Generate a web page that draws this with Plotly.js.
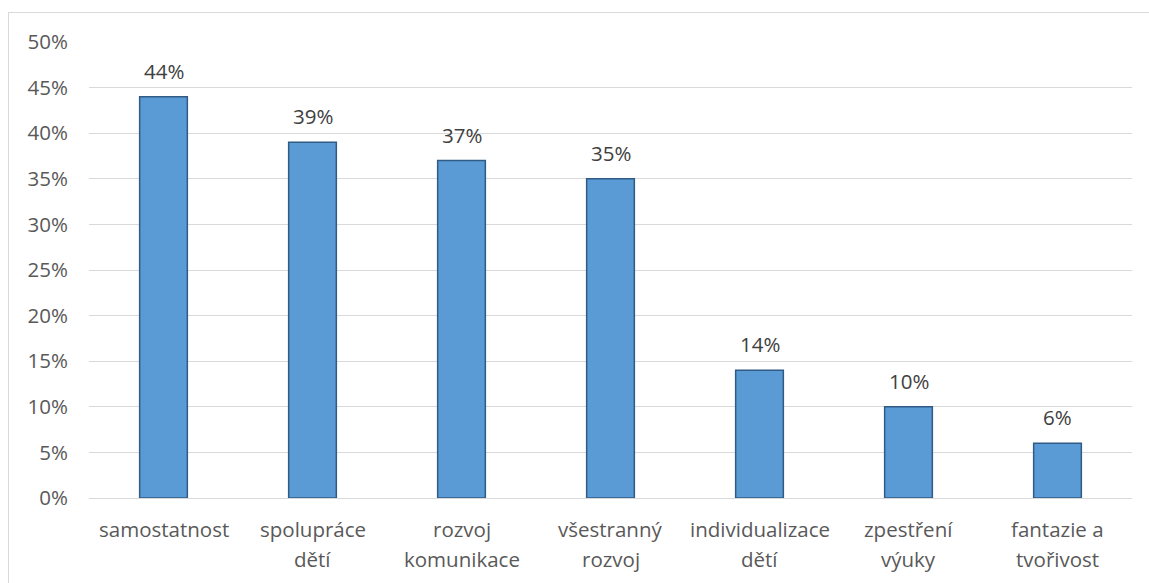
<!DOCTYPE html>
<html>
<head>
<meta charset="utf-8">
<script src="https://cdn.plot.ly/plotly-3.0.1.min.js"></script>
<style>
  html, body { margin: 0; padding: 0; background: #ffffff; }
  #wrap { position: relative; width: 1149px; height: 583px; overflow: hidden; }
  #frame { position: absolute; left: 8px; top: 12px; width: 1160px; height: 600px;
           border: 1px solid #d9d9d9; box-sizing: border-box; pointer-events: none; }
  #chart { position: absolute; left: 0; top: 0; width: 1149px; height: 583px; }
</style>
</head>
<body>
<div id="wrap">
  <div id="chart"></div>
  <div id="frame"></div>
</div>
<script>
// Survey categories (each split into the two lines shown under the axis)
const categories = ['samostatnost', 'spolupráce dětí', 'rozvoj komunikace', 'všestranný rozvoj',
                    'individualizace dětí', 'zpestření výuky', 'fantazie a tvořivost'];
const labelLine1 = ['samostatnost', 'spolupráce', 'rozvoj', 'všestranný', 'individualizace', 'zpestření', 'fantazie a'];
const labelLine2 = ['', 'dětí', 'komunikace', 'rozvoj', 'dětí', 'výuky', 'tvořivost'];
// Share of respondents, in percent
const shares = [44, 39, 37, 35, 14, 10, 6];
const yTicks = [0, 5, 10, 15, 20, 25, 30, 35, 40, 45, 50];

const FONT = '"Open Sans", "Noto Sans", sans-serif';
const FS = 20.5;
const TICK_COLOR = '#595959';
const LABEL_COLOR = '#404040';

const trace = {
  type: 'bar',
  x: categories,
  y: shares,
  marker: { color: '#5b9bd5', line: { color: '#2f5b85', width: 1.5 } },
  hoverinfo: 'skip'
};

const annotations = [];
// value labels above each bar
categories.forEach((c, i) => {
  annotations.push({
    x: c, y: shares[i], xref: 'x', yref: 'y',
    text: shares[i] + '%', showarrow: false,
    yanchor: 'bottom', yshift: 10,
    font: { family: FONT, size: FS, color: LABEL_COLOR }
  });
});
// two-line category labels under the axis
categories.forEach((c, i) => {
  [labelLine1[i], labelLine2[i]].forEach((t, k) => {
    if (!t) return;
    annotations.push({
      x: c, y: 0, xref: 'x', yref: 'paper',
      text: t, showarrow: false,
      yanchor: 'top', yshift: -15 - 30 * k,
      font: { family: FONT, size: FS, color: TICK_COLOR }
    });
  });
});

const layout = {
  width: 1149, height: 583,
  margin: { l: 89, r: 17, t: 42, b: 85 },
  paper_bgcolor: '#ffffff', plot_bgcolor: '#ffffff',
  bargap: 0.68,
  showlegend: false,
  font: { family: FONT, size: FS, color: TICK_COLOR },
  xaxis: {
    type: 'category',
    showticklabels: false,
    showgrid: false, zeroline: false,
    showline: false, ticks: ''
  },
  yaxis: {
    range: [0, 50],
    tickvals: yTicks,
    ticktext: yTicks.map(v => v + '%'),
    showgrid: true, gridcolor: '#d9d9d9', gridwidth: 1,
    zeroline: true, zerolinecolor: '#d9d9d9', zerolinewidth: 1,
    showline: false, ticks: '',
    ticklabelstandoff: 20,
    tickfont: { family: FONT, size: FS, color: TICK_COLOR }
  },
  annotations: annotations
};

Plotly.newPlot('chart', [trace], layout, { staticPlot: true, displayModeBar: false });
</script>
</body>
</html>
